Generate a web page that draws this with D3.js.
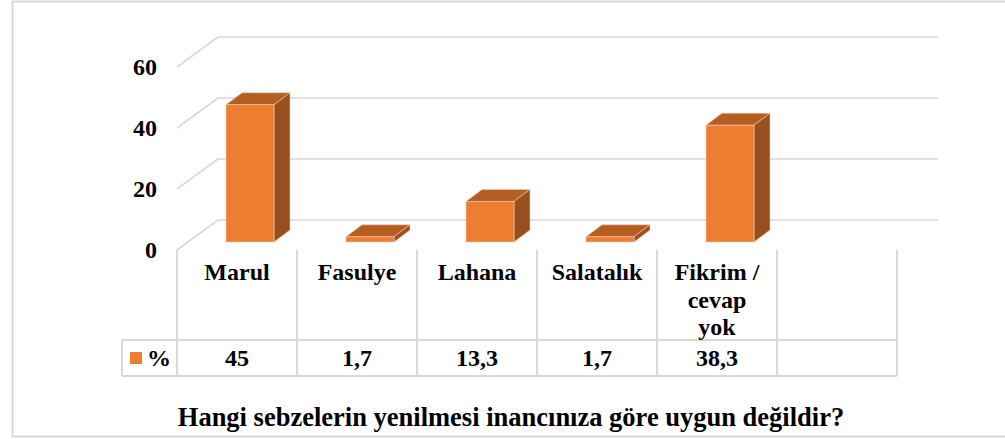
<!DOCTYPE html>
<html>
<head>
<meta charset="utf-8">
<script src="https://cdn.jsdelivr.net/npm/d3@7"></script>
<style>
  html, body { margin: 0; padding: 0; background: #ffffff; }
  svg { display: block; }
</style>
</head>
<body>
<svg id="chart" width="1005" height="439" font-family="'Liberation Serif', 'Times New Roman', serif" font-weight="bold"></svg>
<script>
// Data
const categories = ["Marul", "Fasulye", "Lahana", "Salatalık", "Fikrim / cevap yok"];
const categoryLines = [["Marul"], ["Fasulye"], ["Lahana"], ["Salatalık"], ["Fikrim /", "cevap", "yok"]];
const values = [45, 1.7, 13.3, 1.7, 38.3];
const valueLabels = ["45", "1,7", "13,3", "1,7", "38,3"];
const yTicks = [0, 20, 40, 60];
const seriesName = "%";
const title = "Hangi sebzelerin yenilmesi inancınıza göre uygun değildir?";

const svg = d3.select("#chart");

// Frame
svg.append("rect")
  .attr("x", 12.5).attr("y", 1.5)
  .attr("width", 1010).attr("height", 435)
  .attr("fill", "#fff").attr("stroke", "#d9d9d9").attr("stroke-width", 2);

// Geometry of the 3D plot area
const floorY = 250;             // front edge of the floor
const depthX = 41, depthY = 30; // wall depth offset
const slots = categories.concat([""]); // empty trailing slot
const x = d3.scaleBand().domain(slots.map((d, i) => i)).range([177, 897]).padding(0);
const h = d3.scaleLinear().domain([0, 60]).range([0, 183]);

const grid = "#d9d9d9";

// Back-wall gridlines, left side-wall lines and tick labels
yTicks.forEach(t => {
  const yb = floorY - depthY - h(t);
  svg.append("line")
    .attr("x1", x.range()[0] + depthX).attr("x2", x.range()[1] + depthX)
    .attr("y1", yb).attr("y2", yb)
    .attr("stroke", grid).attr("stroke-width", 1.6);
  svg.append("line")
    .attr("x1", x.range()[0]).attr("y1", floorY - h(t))
    .attr("x2", x.range()[0] + depthX).attr("y2", yb)
    .attr("stroke", grid).attr("stroke-width", 1.6);
  svg.append("text")
    .attr("x", 157).attr("y", floorY - h(t))
    .attr("text-anchor", "end").attr("dominant-baseline", "central")
    .attr("font-size", 24)
    .text(t);
});

// 3D bars
const barInset = 49, barW = 48;
const barBase = 242;
const bdx = 16, bdy = 12;
const bars = svg.append("g");
values.forEach((v, i) => {
  const x0 = x(i) + barInset, x1 = x0 + barW;
  const yTop = barBase - h(v);
  // top face
  bars.append("path")
    .attr("d", `M${x0},${yTop} L${x0 + bdx},${yTop - bdy} L${x1 + bdx},${yTop - bdy} L${x1},${yTop} Z`)
    .attr("fill", "#b65d22").attr("stroke", "#f4c7a6").attr("stroke-width", 0.6);
  // side face
  bars.append("path")
    .attr("d", `M${x1},${yTop} L${x1 + bdx},${yTop - bdy} L${x1 + bdx},${barBase - bdy} L${x1},${barBase} Z`)
    .attr("fill", "#9a4f1e").attr("stroke", "#f4c7a6").attr("stroke-width", 0.6);
  // front face
  bars.append("rect")
    .attr("x", x0).attr("y", yTop)
    .attr("width", barW).attr("height", barBase - yTop)
    .attr("fill", "#ed7d31").attr("stroke", "#f8cbad").attr("stroke-width", 0.6);
});

// Data table below the plot
const tableTop = 250, rowTop = 340, rowBottom = 376, tableLeft = 122;
const tbl = svg.append("g").attr("stroke", grid).attr("stroke-width", 2);
slots.forEach((s, i) => {
  tbl.append("line").attr("x1", x(i)).attr("x2", x(i)).attr("y1", tableTop).attr("y2", rowBottom);
});
tbl.append("line").attr("x1", x.range()[1]).attr("x2", x.range()[1]).attr("y1", tableTop).attr("y2", rowBottom);
tbl.append("line").attr("x1", tableLeft).attr("x2", x.range()[1]).attr("y1", rowTop).attr("y2", rowTop);
tbl.append("line").attr("x1", tableLeft).attr("x2", x.range()[1]).attr("y1", rowBottom).attr("y2", rowBottom);
tbl.append("line").attr("x1", tableLeft).attr("x2", tableLeft).attr("y1", rowTop).attr("y2", rowBottom);

// Category labels
categoryLines.forEach((lines, i) => {
  const cx = x(i) + x.bandwidth() / 2;
  const t = svg.append("text")
    .attr("text-anchor", "middle").attr("dominant-baseline", "central")
    .attr("font-size", 24);
  lines.forEach((ln, j) => {
    t.append("tspan").attr("x", cx).attr("y", 272 + j * 27.5).text(ln);
  });
});

// Value row
valueLabels.forEach((lbl, i) => {
  svg.append("text")
    .attr("x", x(i) + x.bandwidth() / 2).attr("y", 358)
    .attr("text-anchor", "middle").attr("dominant-baseline", "central")
    .attr("font-size", 24)
    .text(lbl);
});

// Legend key inside the row header
svg.append("rect").attr("x", 130).attr("y", 352).attr("width", 12).attr("height", 12).attr("fill", "#ed7d31");
svg.append("text")
  .attr("x", 147).attr("y", 358)
  .attr("dominant-baseline", "central").attr("font-size", 24)
  .text(seriesName);

// Title
svg.append("text")
  .attr("x", 511).attr("y", 417)
  .attr("text-anchor", "middle").attr("dominant-baseline", "central")
  .attr("font-size", 26.5)
  .text(title);
</script>
</body>
</html>
